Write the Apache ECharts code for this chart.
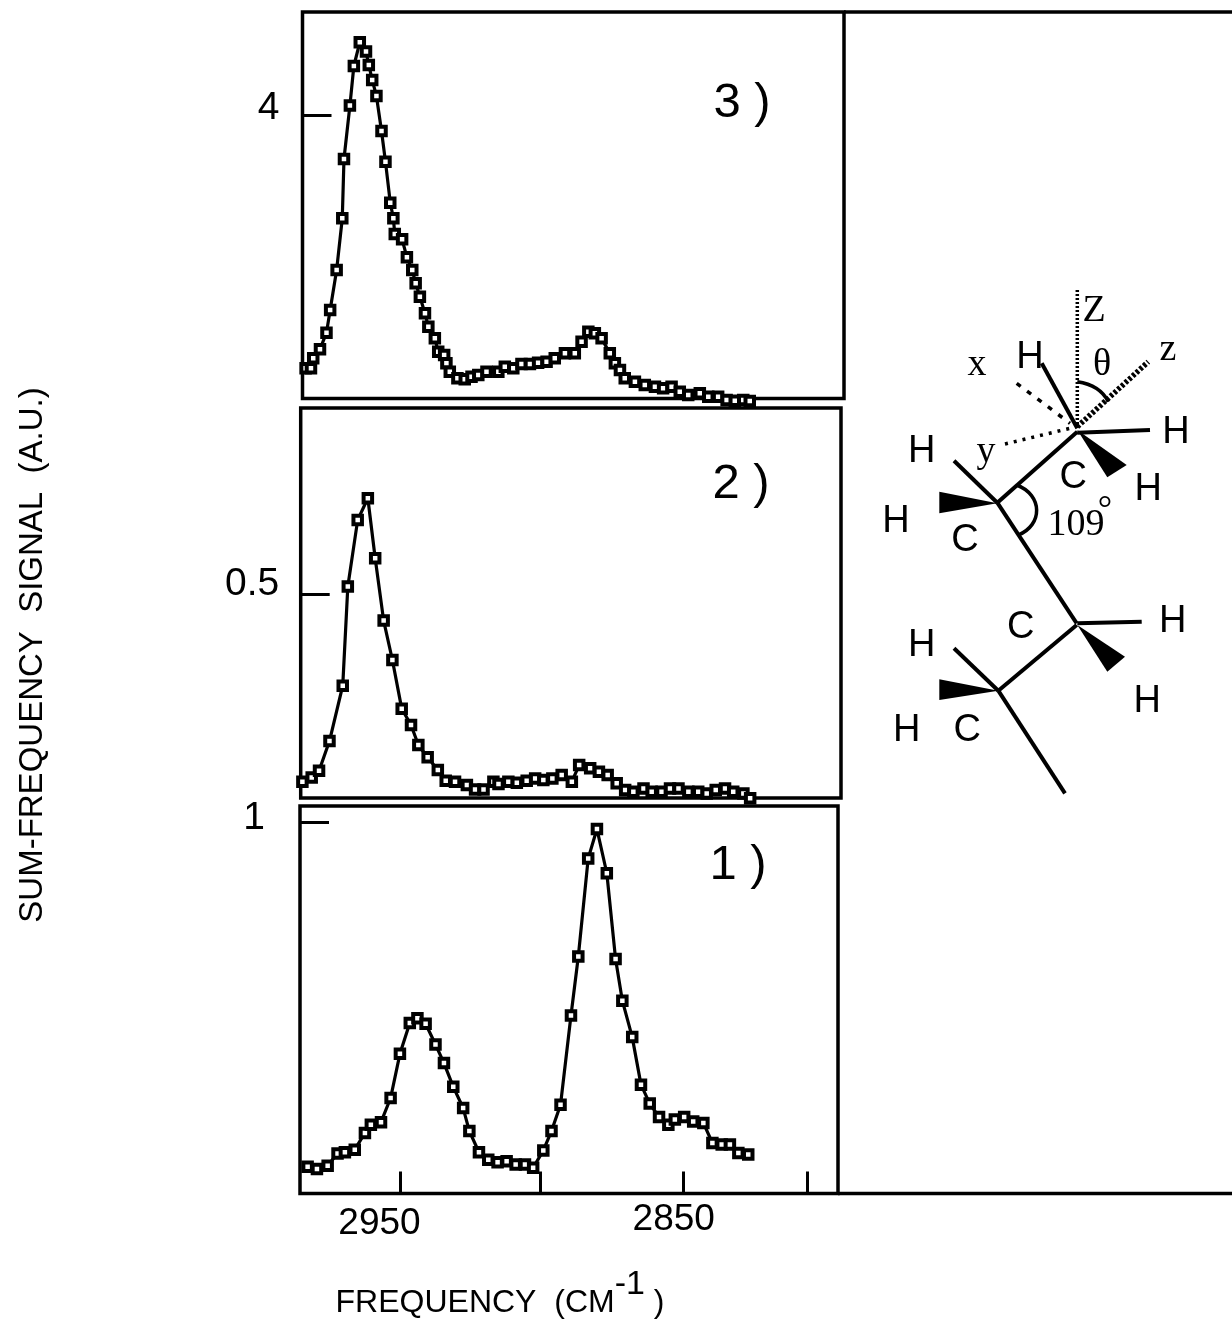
<!DOCTYPE html>
<html>
<head>
<meta charset="utf-8">
<title>Sum-frequency spectra</title>
<style>html,body{margin:0;padding:0;background:#fff}#chart{width:1232px;height:1328px}</style>
<script src="https://cdn.jsdelivr.net/npm/echarts@6/dist/echarts.min.js"></script>
</head>
<body>
<div id="chart"></div>
<script>
// wavenumber (cm-1) and signal (a.u.)
const freq1 = [2982.9,2979.6,2975.8,2972.3,2969.7,2966.2,2962.6,2960.5,2956.9,2953.5,2950.2,2946.7,2944.0,2941.1,2937.6,2934.6,2931.3,2927.8,2925.6,2922.2,2918.9,2915.6,2912.4,2909.2,2905.9,2903.0,2899.4,2896.5,2893.3,2889.6,2887.0,2883.5,2880.4,2876.9,2873.8,2871.4,2867.9,2864.8,2861.7,2858.4,2855.1,2852.8,2849.5,2846.3,2842.7,2839.5,2836.2,2833.3,2830.3,2826.8];
const signal1 = [.072,.066,.075,.108,.111,.118,.163,.185,.192,.257,.376,.459,.472,.457,.401,.351,.287,.230,.168,.111,.091,.084,.087,.078,.078,.069,.116,.168,.239,.479,.638,.902,.981,.862,.631,.519,.421,.293,.242,.206,.185,.199,.206,.194,.190,.136,.132,.132,.109,.105];

const freq2 = [2985.9,2982.6,2980.0,2976.3,2971.6,2969.8,2966.3,2962.7,2960.1,2957.1,2954.0,2950.7,2947.4,2944.8,2941.5,2937.9,2935.1,2931.8,2927.6,2924.7,2921.7,2918.2,2916.4,2912.9,2909.9,2906.4,2903.4,2900.5,2897.3,2894.0,2890.4,2887.8,2883.9,2880.8,2877.7,2874.5,2871.5,2868.6,2865.0,2862.1,2858.6,2855.6,2852.6,2849.1,2845.6,2842.6,2839.4,2836.1,2833.2,2829.6,2827.2];
const signal2 = [.0445,.055,.0712,.1432,.2775,.5178,.6796,.7322,.5866,.4353,.3398,.2217,.1821,.1335,.1036,.0728,.047,.0445,.0364,.0259,.0259,.0445,.0389,.0445,.0421,.047,.0526,.0486,.0526,.0607,.0445,.085,.0769,.0688,.0607,.0405,.0243,.0203,.0283,.0203,.0203,.0283,.0283,.0203,.0203,.0162,.0243,.0283,.0203,.0162,.0041];

const freq3 = [2985.4,2983.5,2982.7,2980.3,2978.0,2976.7,2974.4,2972.4,2971.8,2969.7,2968.3,2966.2,2964.0,2963.0,2961.8,2960.3,2958.5,2957.1,2955.4,2954.3,2953.8,2951.2,2949.5,2947.6,2946.4,2944.9,2943.1,2941.9,2939.6,2938.4,2936.3,2935.5,2934.3,2931.6,2929.0,2926.6,2924.2,2921.3,2917.1,2914.8,2911.8,2908.9,2905.9,2903.0,2900.0,2897.1,2893.5,2890.0,2887.6,2885.2,2882.9,2880.5,2877.6,2875.8,2874.0,2872.3,2868.7,2865.2,2861.6,2858.7,2855.7,2852.8,2849.8,2845.7,2842.7,2839.2,2836.2,2833.3,2830.3,2828.0];
const signal3 = [.457,.457,.597,.723,.956,1.273,1.832,2.555,3.385,4.131,4.685,5.016,4.886,4.699,4.49,4.266,3.776,3.347,2.774,2.555,2.336,2.261,2.009,1.832,1.646,1.459,1.226,1.04,.876,.69,.643,.527,.41,.317,.303,.34,.364,.41,.41,.48,.457,.518,.518,.536,.55,.597,.667,.667,.83,.97,.946,.876,.667,.527,.434,.317,.27,.224,.2,.177,.2,.131,.084,.107,.061,.061,.014,.005,.014,0];

const xTickValues = [2950, 2900.5, 2850, 2806];
const xLabelValues = [2950, 2850];
const yTick1 = [1], yTick2 = [0.5], yTick3 = [4];
const panelNames = ['1 )', '2 )', '3 )'];
const xTitle = 'FREQUENCY  (CM';
const yTitle = 'SUM-FREQUENCY  SIGNAL  (A.U.)';

const black = '#000';
const SANS = '"Liberation Sans", Arial, sans-serif';
const SERIF = '"Liberation Serif", "Times New Roman", serif';

const chart = echarts.init(document.getElementById('chart'), null, {renderer: 'canvas'});

function series(i, xs, ys) {
  return {
    type: 'line', xAxisIndex: i, yAxisIndex: i,
    data: xs.map((x, k) => [x, ys[k]]),
    symbol: 'rect', symbolSize: 8.5, showSymbol: true, showAllSymbol: true,
    clip: false, silent: true, animation: false,
    lineStyle: {color: black, width: 3.2},
    itemStyle: {color: '#fff', borderColor: black, borderWidth: 4, opacity: 1}
  };
}
function yAxis(i, min, max, ticks, margin, padBottom, extra) {
  return Object.assign({
    type: 'value', gridIndex: i, min, max, splitLine: {show: false},
    axisLine: {show: false},
    axisTick: {show: true, inside: true, length: 29, customValues: ticks, lineStyle: {color: black, width: 3}},
    axisLabel: {show: true, customValues: ticks, margin, hideOverlap: false, showMinLabel: true, showMaxLabel: true,
      formatter: v => '{n|' + v + '}',
      rich: {n: {fontFamily: SANS, fontSize: 39, color: black, padding: [0, 0, padBottom, 0]}}}
  }, extra || {});
}
function xAxis(i, min, max, extra) {
  return Object.assign({
    type: 'value', gridIndex: i, min, max, inverse: true, splitLine: {show: false},
    axisLine: {show: false}, axisTick: {show: false}, axisLabel: {show: false}
  }, extra || {});
}

function line(x1, y1, x2, y2, w, dash) {
  return {type: 'line', silent: true, shape: {x1, y1, x2, y2},
    style: {stroke: black, lineWidth: w, lineDash: dash || null, lineCap: 'butt'}};
}
function wedge(pts) { return {type: 'polygon', silent: true, shape: {points: pts}, style: {fill: black}}; }
function txt(s, x, y, size, family) {
  return {type: 'text', silent: true, x, y: y + 4, style: {text: s, fill: black, align: 'center', verticalAlign: 'middle',
    fontSize: size, fontFamily: family || SANS}};
}

const option = {
  animation: false,
  backgroundColor: '#fff',
  grid: [
    {left: 300, top: 806, width: 538, height: 387.5, show: true, borderColor: black, borderWidth: 3.5, backgroundColor: 'transparent'},
    {left: 300.7, top: 408, width: 540.3, height: 390, show: true, borderColor: black, borderWidth: 3.5, backgroundColor: 'transparent'},
    {left: 302.5, top: 12, width: 541.5, height: 386.5, show: true, borderColor: black, borderWidth: 3.5, backgroundColor: 'transparent'}
  ],
  xAxis: [
    xAxis(0, 2795, 2985.6, {
      axisTick: {show: true, inside: true, length: 22, customValues: xTickValues, lineStyle: {color: black, width: 3}},
      axisLabel: {show: true, customValues: xLabelValues, margin: 8, hideOverlap: false,
        formatter: v => v === 2950 ? '{a|2950}' : '{b|2850}',
        rich: {
          a: {fontFamily: SANS, fontSize: 37, color: black, padding: [4, 42, 0, 0]},
          b: {fontFamily: SANS, fontSize: 37, color: black, padding: [0, 18, 4, 0]}
        }},
      name: '{t|' + xTitle + '}{s|-1}{t| )}',
      nameLocation: 'middle', nameGap: 74,
      nameTextStyle: {padding: [0, 138, 0, 0], rich: {
        t: {fontFamily: SANS, fontSize: 32, color: black, verticalAlign: 'bottom', lineHeight: 52},
        s: {fontFamily: SANS, fontSize: 34, color: black, verticalAlign: 'top', lineHeight: 34}
      }}
    }),
    xAxis(1, 2795, 2986.5),
    xAxis(2, 2794.6, 2986.5)
  ],
  yAxis: [
    yAxis(0, 0, 1.043, yTick1, 35, 8),
    yAxis(1, 0.005, 0.951, yTick2, 21.5, 20, {
      name: yTitle, nameLocation: 'middle', nameRotate: 90, nameGap: 251,
      nameTextStyle: {fontFamily: SANS, fontSize: 33, color: black, padding: [0, 104, 0, 0]}
    }),
    yAxis(2, 0.035, 5.44, yTick3, 23, 14)
  ],
  series: [series(0, freq1, signal1), series(1, freq2, signal2), series(2, freq3, signal3)],
  graphic: {elements: [
    // right-hand frame
    line(844, 12, 1232, 12, 3.5),
    line(838, 1193.5, 1232, 1193.5, 3.5),
    // panel numbers
    txt(panelNames[2], 742, 99, 49),
    txt(panelNames[1], 741, 480, 49),
    txt(panelNames[0], 738, 861, 49),
    // molecule: upper
    line(1077.3, 290, 1077.3, 427, 3.5, [2, 2]),
    line(1041.7, 363.3, 1077.3, 428.3, 4),
    line(1077.3, 432.7, 1150, 430, 4),
    wedge([[1077.3, 430], [1126.7, 465], [1107.3, 477.3]]),
    line(1077.3, 431.7, 997.3, 502.7, 4),
    line(954, 460.7, 997.3, 502.7, 4),
    line(997.3, 502.7, 1076.7, 623.3, 4),
    wedge([[997.3, 503.3], [939.3, 491.7], [939.3, 513.3]]),
    line(1077.3, 426.7, 1148.3, 361.7, 5.5, [3, 2]),
    line(1016.7, 383.3, 1070, 423.3, 3.5, [5, 8]),
    line(1005, 444, 1070, 428.3, 3.5, [3, 6]),
    {type: 'bezierCurve', silent: true, shape: {x1: 1016.7, y1: 485, cpx1: 1043, cpy1: 495, cpx2: 1043, cpy2: 525, x2: 1018.3, y2: 535},
      style: {stroke: black, lineWidth: 3.5, fill: 'none'}},
    {type: 'bezierCurve', silent: true, shape: {x1: 1077.3, y1: 381.7, cpx1: 1100, cpy1: 385, x2: 1108.3, y2: 401.7},
      style: {stroke: black, lineWidth: 3.5, fill: 'none'}},
    // molecule: lower
    line(1077.3, 623.3, 1141.7, 621.7, 4),
    wedge([[1077.3, 625], [1125, 656.7], [1107.3, 671.7]]),
    line(1076.7, 625, 998.3, 690.7, 4),
    line(954, 648.3, 998.3, 690.7, 4),
    line(998.3, 690.7, 1065, 793.3, 4),
    wedge([[998.3, 690.7], [939.3, 679.3], [939.3, 700]]),
    // molecule labels
    txt('H', 1030, 354, 38),
    txt('Z', 1094, 307, 38, SERIF),
    txt('z', 1168, 346, 38, SERIF),
    txt('x', 977, 361, 38, SERIF),
    txt('θ', 1102, 361, 38, SERIF),
    txt('H', 1176, 429, 38),
    txt('y', 986, 448, 38, SERIF),
    txt('H', 921.7, 448, 38),
    txt('C', 1073.3, 473.3, 38),
    txt('H', 1148.3, 486, 38),
    txt('H', 896, 518, 38),
    txt('C', 965, 537, 38),
    txt('109', 1076, 521, 38, SERIF),
    txt('°', 1105, 507, 36, SERIF),
    txt('C', 1020.7, 623.3, 38),
    txt('H', 1172.7, 618, 38),
    txt('H', 921.7, 642, 38),
    txt('H', 1147.3, 698, 38),
    txt('H', 906.7, 727, 38),
    txt('C', 967.3, 727, 38)
  ]}
};
chart.setOption(option);
</script>
</body>
</html>
